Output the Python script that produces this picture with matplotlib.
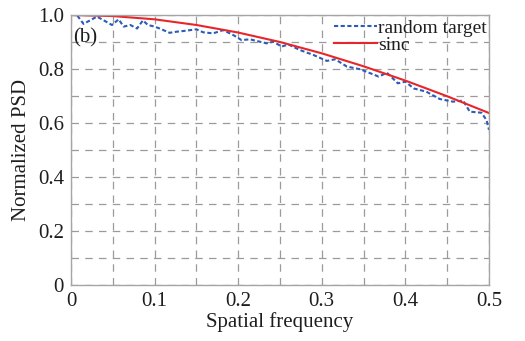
import matplotlib
matplotlib.use("Agg")
import matplotlib.pyplot as plt
import numpy as np

# Data
rand_f = [0.0, 0.007, 0.015, 0.031, 0.037, 0.049, 0.057, 0.063, 0.071, 0.079, 0.086,
          0.092, 0.100, 0.106, 0.118, 0.126, 0.138, 0.150, 0.158, 0.170, 0.182, 0.194,
          0.204, 0.214, 0.234, 0.242, 0.252, 0.260, 0.274, 0.290, 0.306, 0.316, 0.330,
          0.346, 0.368, 0.378, 0.391, 0.400, 0.410, 0.425, 0.441, 0.457, 0.469, 0.477,
          0.491, 0.497, 0.500]
rand_psd = [1.0, 1.0, 0.967, 0.994, 0.984, 0.963, 0.984, 0.957, 0.963, 0.950, 0.980,
            0.963, 0.957, 0.950, 0.934, 0.938, 0.942, 0.947, 0.936, 0.932, 0.944, 0.926,
            0.907, 0.910, 0.895, 0.901, 0.883, 0.891, 0.870, 0.852, 0.830, 0.836, 0.809,
            0.799, 0.772, 0.786, 0.747, 0.753, 0.728, 0.716, 0.689, 0.679, 0.683, 0.642,
            0.638, 0.611, 0.575]
sinc_f = [0.0, 0.05, 0.10, 0.15, 0.20, 0.25, 0.30, 0.35, 0.40, 0.45, 0.50]
sinc_psd = [1.0, 0.996, 0.984, 0.963, 0.935, 0.900, 0.858, 0.810, 0.757, 0.699, 0.637]

xticks = [0, 0.1, 0.2, 0.3, 0.4, 0.5]
xticklabels = ["0", "0.1", "0.2", "0.3", "0.4", "0.5"]
yticks = [0, 0.2, 0.4, 0.6, 0.8, 1.0]
yticklabels = ["0", "0.2", "0.4", "0.6", "0.8", "1.0"]

plt.rcParams['font.family'] = ['Liberation Serif', 'DejaVu Serif']
TXT = "#1e1e1e"
W, H = 525, 341
fig = plt.figure(figsize=(W / 100, H / 100), dpi=100)
ax = fig.add_axes([71 / W, 1 - 285 / H, (489 - 71) / W, (285 - 15) / H])

ax.plot(rand_f, rand_psd, color="#2a5cb8", lw=1.5, ls=(0, (2, 1.2)), label="random target")
ax.plot(sinc_f, sinc_psd, color="#e8262a", lw=1.5, label="sinc")

ax.set_xlim(0, 0.5)
ax.set_ylim(0, 1.0)
ax.set_xticks(xticks)
ax.set_xticklabels(xticklabels)
ax.set_yticks(yticks)
ax.set_yticklabels(yticklabels)
ax.set_xticks(np.arange(0, 0.5001, 0.05), minor=True)
ax.set_yticks(np.arange(0, 1.0001, 0.1), minor=True)
ax.tick_params(which="both", length=0, labelsize=15, pad=5, colors=TXT)
ax.grid(which="both", color="#9e9a9a", ls=(0, (6, 5)), lw=0.9)
ax.set_axisbelow(True)
for s in ax.spines.values():
    s.set_color("#a8a4a4")
    s.set_linewidth(1.0)

ax.set_xlabel("Spatial frequency", fontsize=15, labelpad=1, color=TXT)
ax.set_ylabel("Normalized PSD", fontsize=15, labelpad=5, color=TXT)
ax.text(0.002, 0.915, "(b)", fontsize=15, color=TXT, va="center", ha="left")

leg = ax.legend(loc="upper right", bbox_to_anchor=(0.995, 0.985), frameon=False,
                fontsize=14, handlelength=2.2, handletextpad=0.05, labelspacing=0.0,
                borderaxespad=0.0, borderpad=0.0)
for t in leg.get_texts():
    t.set_color(TXT)

fig.savefig("out.png", dpi=100, facecolor="white")
